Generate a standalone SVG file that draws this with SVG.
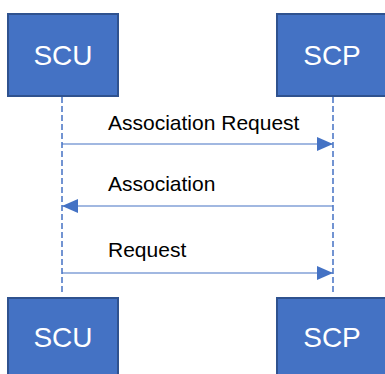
<svg xmlns="http://www.w3.org/2000/svg" width="385" height="374" viewBox="0 0 385 374">
  <style>
    .box { fill: #4472C4; stroke: #2F528F; stroke-width: 2; }
    .boxlabel { font-family: "Liberation Sans", Arial, sans-serif; font-size: 28px; fill: #FFFFFF; text-anchor: middle; }
    .life { stroke: #4472C4; stroke-width: 1.5; stroke-dasharray: 6 3; fill: none; }
    .msg { stroke: #4472C4; stroke-width: 1.2; fill: none; }
    .msglabel { font-family: "Liberation Sans", Arial, sans-serif; font-size: 21px; fill: #000000; }
  </style>
  <defs>
    <marker id="head" viewBox="0 0 16 14" refX="16" refY="7" markerWidth="16" markerHeight="14" markerUnits="userSpaceOnUse" orient="auto">
      <path d="M0,0 L16,7 L0,14 Z" fill="#4472C4"/>
    </marker>
  </defs>

  <rect width="385" height="374" fill="#FFFFFF"/>

  <!-- lifelines and messages -->
  <g id="connectors">
    <line class="life" x1="62" y1="97" x2="62" y2="294"/>
    <line class="life" x1="333" y1="97" x2="333" y2="294"/>
    <line class="msg" x1="62" y1="144" x2="333" y2="144" marker-end="url(#head)"/>
    <line class="msg" x1="333" y1="206" x2="62" y2="206" marker-end="url(#head)"/>
    <line class="msg" x1="62" y1="273" x2="333" y2="273" marker-end="url(#head)"/>
    <text class="msglabel" x="108" y="130">Association Request</text>
    <text class="msglabel" x="108" y="191">Association</text>
    <text class="msglabel" x="108" y="257">Request</text>
  </g>

  <g id="scu-top">
    <rect class="box" x="8" y="14" width="110" height="82"/>
    <text class="boxlabel" x="63" y="65">SCU</text>
  </g>
  <g id="scp-top">
    <rect class="box" x="277" y="14" width="110" height="82"/>
    <text class="boxlabel" x="332" y="65">SCP</text>
  </g>
  <g id="scu-bottom">
    <rect class="box" x="8" y="298" width="110" height="82"/>
    <text class="boxlabel" x="63" y="347">SCU</text>
  </g>
  <g id="scp-bottom">
    <rect class="box" x="277" y="298" width="110" height="82"/>
    <text class="boxlabel" x="332" y="347">SCP</text>
  </g>
</svg>
